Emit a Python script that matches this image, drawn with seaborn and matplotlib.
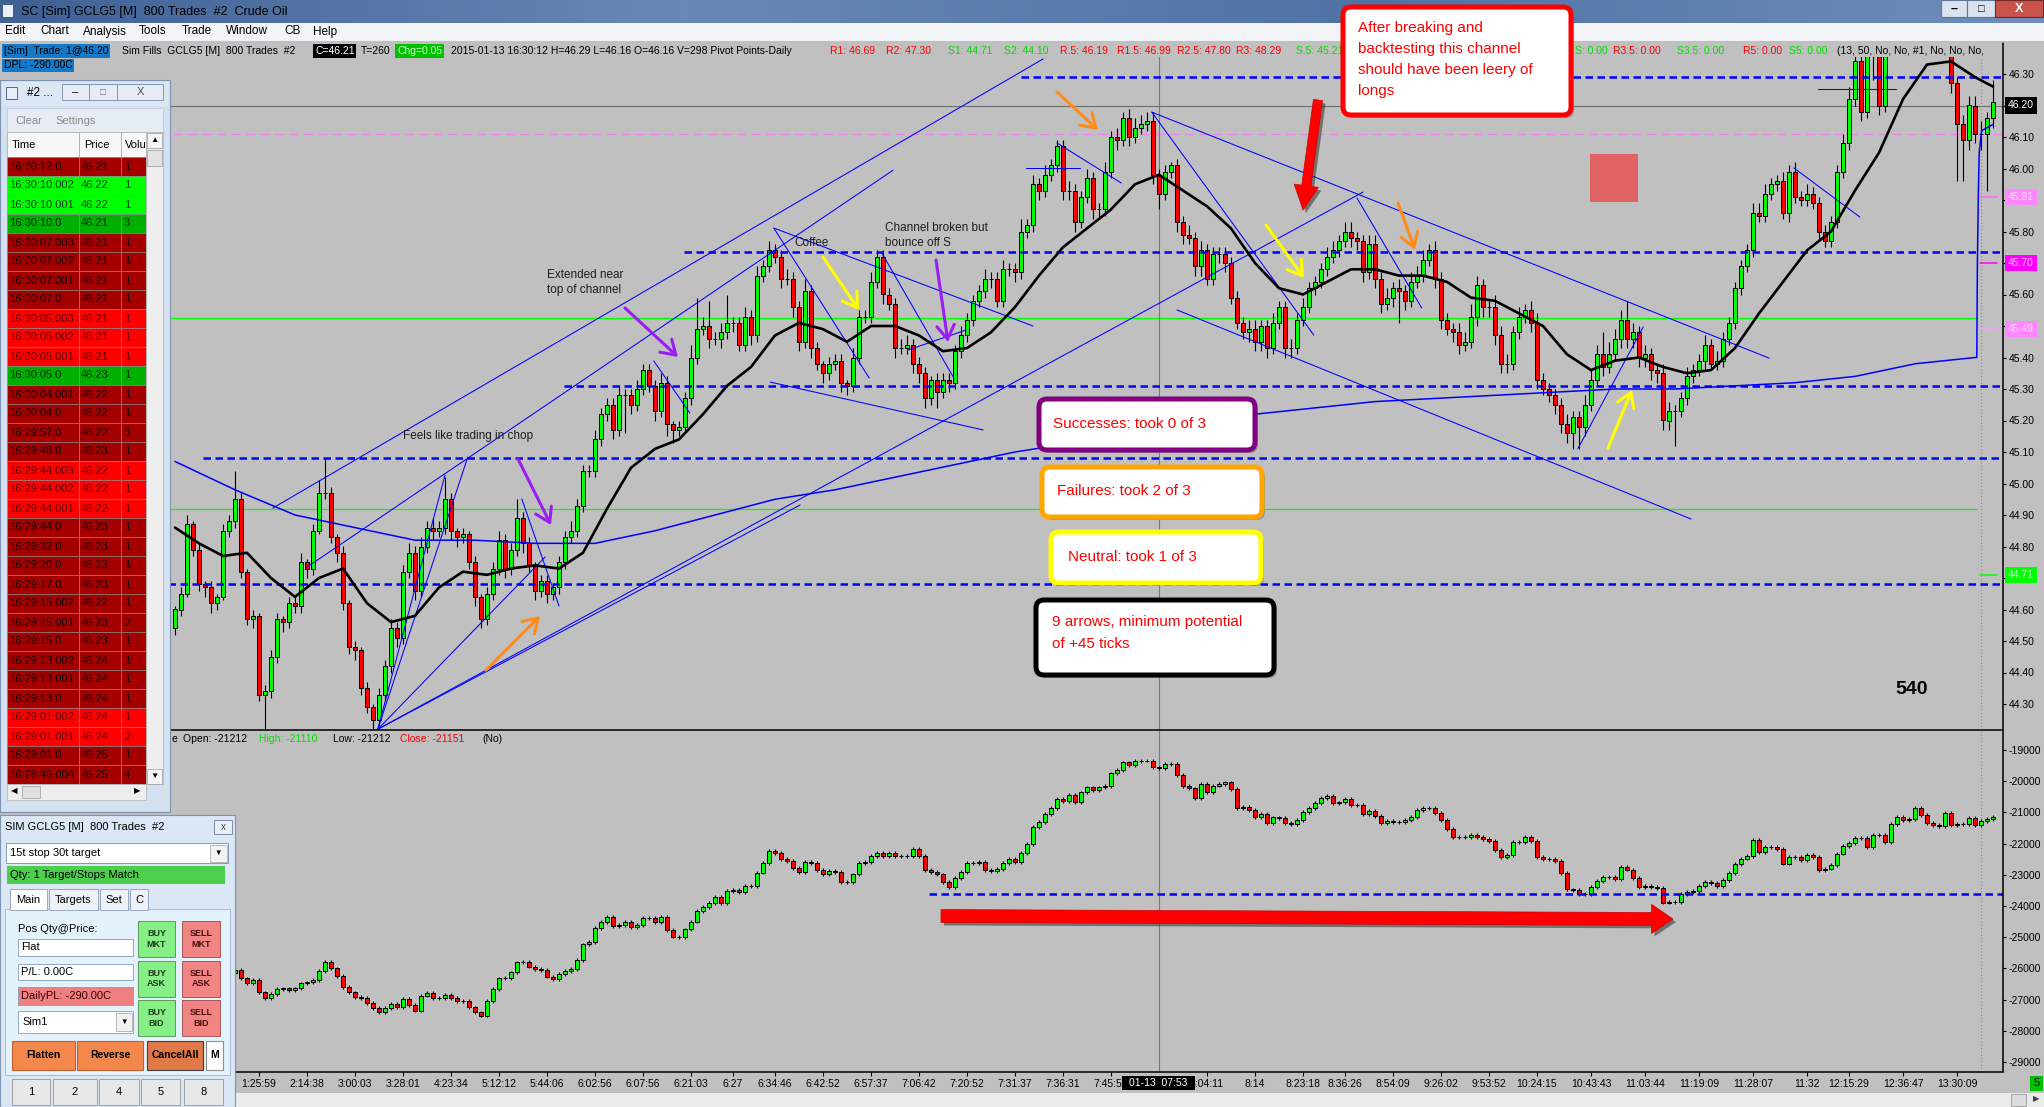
import numpy as np
import matplotlib
matplotlib.use("Agg")
import matplotlib.pyplot as plt
import seaborn as sns
from matplotlib.patches import Rectangle, FancyBboxPatch, FancyArrowPatch
from matplotlib.colors import LinearSegmentedColormap

sns.set_theme(style="ticks")
plt.rcParams["font.family"] = ["Liberation Sans", "DejaVu Sans"]
plt.rcParams["axes.unicode_minus"] = False

# ---------------------------------------------------------------- data
# price bars (closes in cents), bar 0 is the first bar right of the Time&Sales window
CLOSE_CENTS = [
    4460, 4465, 4487, 4479, 4468, 4467, 4462, 4464, 4485, 4488,
    4495, 4472, 4457, 4458, 4433, 4434, 4445, 4457, 4456, 4462,
    4461, 4475, 4473, 4485, 4497, 4497, 4483, 4478, 4462, 4448,
    4447, 4435, 4429, 4425, 4433, 4442, 4454, 4451, 4472, 4478,
    4466, 4480, 4486, 4485, 4486, 4495, 4485, 4483, 4484, 4475,
    4464, 4457, 4465, 4473, 4482, 4473, 4479, 4489, 4481, 4474,
    4466, 4469, 4465, 4467, 4475, 4483, 4485, 4493, 4504, 4504,
    4514, 4522, 4525, 4517, 4528, 4528, 4525, 4530, 4536, 4531,
    4523, 4532, 4519, 4517, 4518, 4527, 4540, 4549, 4550, 4546,
    4546, 4548, 4551, 4551, 4544, 4553, 4547, 4566, 4569, 4574,
    4572, 4565, 4565, 4556, 4545, 4561, 4543, 4538, 4535, 4538,
    4539, 4532, 4531, 4540, 4553, 4553, 4564, 4572, 4560, 4557,
    4543, 4543, 4544, 4538, 4535, 4527, 4533, 4529, 4533, 4532,
    4542, 4547, 4552, 4558, 4561, 4565, 4565, 4558, 4568, 4568,
    4567, 4580, 4582, 4595, 4593, 4598, 4601, 4607, 4593, 4593,
    4583, 4591, 4597, 4587, 4587, 4599, 4610, 4609, 4616, 4610,
    4613, 4614, 4615, 4598, 4592, 4599, 4601, 4583, 4579, 4578,
    4569, 4574, 4565, 4573, 4573, 4570, 4559, 4551, 4548, 4549,
    4545, 4550, 4543, 4551, 4556, 4543, 4543, 4552, 4556, 4562,
    4564, 4568, 4572, 4574, 4577, 4580, 4578, 4577, 4567, 4576,
    4565, 4557, 4559, 4562, 4561, 4558, 4564, 4566, 4571, 4574,
    4565, 4552, 4549, 4548, 4544, 4545, 4553, 4563, 4556, 4556,
    4547, 4538, 4538, 4548, 4553, 4555, 4551, 4533, 4530, 4528,
    4525, 4519, 4516, 4521, 4518, 4525, 4533, 4541, 4537, 4541,
    4546, 4552, 4546, 4548, 4540, 4541, 4536, 4535, 4520, 4523,
    4523, 4527, 4534, 4536, 4539, 4544, 4538, 4539, 4546, 4551,
    4562, 4569, 4574, 4586, 4585, 4592, 4595, 4596, 4586, 4599,
    4591, 4590, 4592, 4589, 4580, 4577, 4583, 4599, 4608, 4622,
    4634, 4618, 4640, 4642, 4620, 4640, 4644, 4650, 4647, 4652,
    4655, 4650, 4653, 4648, 4645, 4642, 4627, 4614, 4609, 4620,
    4611, 4611, 4616, 4621]
FIRST_OPEN = 44.54
WICK_UP_CENTS = [
    1, 2, 3, 1, 2, 1, 2, 1, 2, 2, 9, 2, 1, 2, 1, 2, 2, 2, 1, 2,
    2, 3, 1, 2, 4, 11, 2, 1, 2, 1, 2, 1, 2, 1, 2, 2, 3, 2, 2, 3,
    2, 3, 2, 3, 2, 7, 2, 1, 2, 1, 2, 1, 2, 2, 3, 2, 2, 6, 2, 2,
    1, 2, 2, 1, 2, 2, 3, 2, 2, 2, 3, 2, 2, 2, 3, 2, 2, 3, 2, 2,
    2, 3, 2, 1, 2, 2, 4, 10, 3, 8, 2, 3, 9, 2, 2, 3, 2, 3, 2, 3,
    2, 2, 3, 2, 2, 4, 2, 2, 1, 2, 2, 2, 1, 3, 2, 2, 3, 2, 2, 2,
    2, 3, 3, 2, 2, 2, 1, 2, 2, 2, 2, 3, 2, 2, 2, 3, 2, 2, 3, 2,
    2, 4, 2, 3, 2, 3, 2, 2, 2, 3, 2, 2, 3, 2, 2, 3, 2, 3, 2, 3,
    3, 3, 3, 3, 2, 2, 1, 2, 2, 3, 2, 3, 2, 2, 2, 2, 2, 2, 2, 3,
    3, 2, 2, 3, 2, 2, 3, 2, 3, 2, 2, 2, 3, 3, 2, 3, 3, 2, 2, 3,
    3, 2, 3, 2, 3, 2, 3, 3, 3, 2, 3, 2, 2, 2, 3, 3, 4, 3, 2, 2,
    4, 3, 3, 2, 3, 2, 3, 3, 2, 2, 2, 2, 3, 2, 2, 3, 3, 3, 7, 4,
    3, 3, 6, 3, 2, 3, 2, 2, 3, 3, 2, 2, 3, 2, 2, 3, 2, 3, 2, 2,
    2, 2, 2, 3, 3, 3, 2, 2, 3, 2, 3, 2, 3, 2, 2, 2, 2, 2, 3, 4,
    3, 3, 3, 3, 3, 3, 3, 3, 3, 3, 3, 3, 3, 3, 3, 3, 4, 2, 3, 3,
    3, 4, 2, 7]
WICK_DN_CENTS = [
    2, 2, 1, 2, 2, 3, 3, 2, 1, 2, 2, 2, 2, 3, 2, 11, 2, 2, 3, 2,
    2, 2, 3, 2, 1, 2, 2, 3, 2, 2, 3, 2, 2, 3, 2, 2, 2, 3, 2, 2,
    3, 2, 2, 3, 2, 2, 3, 3, 2, 2, 3, 3, 2, 2, 2, 3, 2, 2, 3, 2,
    3, 2, 3, 2, 2, 2, 2, 2, 2, 2, 2, 2, 2, 3, 2, 12, 3, 2, 2, 2,
    3, 2, 4, 4, 2, 2, 2, 2, 2, 3, 2, 3, 2, 3, 2, 2, 3, 2, 2, 2,
    2, 3, 2, 3, 3, 2, 3, 2, 3, 2, 2, 3, 3, 2, 2, 2, 2, 2, 3, 2,
    3, 2, 2, 3, 3, 3, 2, 5, 2, 3, 2, 2, 2, 2, 2, 2, 3, 2, 2, 2,
    3, 2, 2, 2, 3, 2, 2, 2, 3, 3, 3, 2, 2, 3, 3, 2, 2, 3, 2, 3,
    2, 2, 2, 3, 5, 2, 2, 3, 3, 2, 3, 3, 2, 2, 3, 3, 2, 2, 2, 3,
    3, 3, 3, 2, 2, 3, 3, 2, 2, 2, 2, 2, 2, 2, 2, 2, 3, 3, 3, 2,
    3, 3, 2, 3, 10, 3, 2, 2, 2, 2, 3, 3, 2, 3, 3, 2, 2, 3, 3, 3,
    3, 3, 3, 2, 2, 2, 3, 3, 2, 2, 3, 3, 3, 5, 7, 3, 2, 2, 3, 2,
    2, 3, 3, 3, 3, 3, 3, 3, 3, 3, 11, 2, 2, 2, 2, 3, 2, 2, 2, 2,
    2, 2, 2, 2, 2, 2, 2, 2, 2, 3, 2, 2, 2, 2, 3, 2, 2, 2, 2, 2,
    2, 3, 2, 12, 3, 2, 3, 3, 3, 3, 3, 3, 3, 3, 3, 3, 3, 18, 13, 3,
    3, 5, 18, 3]

# black moving average, read every 4 bars
MA_STEP = 4
MA_VALUES = [
    44.86, 44.81, 44.77, 44.78, 44.70, 44.64, 44.70, 44.73, 44.62, 44.56,
    44.58, 44.67, 44.72, 44.71, 44.73, 44.74, 44.73, 44.78, 44.92, 45.05,
    45.11, 45.14, 45.22, 45.31, 45.37, 45.47, 45.51, 45.49, 45.45, 45.50,
    45.50, 45.47, 45.42, 45.43, 45.48, 45.56, 45.66, 45.75, 45.81, 45.87,
    45.95, 45.98, 45.93, 45.88, 45.81, 45.70, 45.62, 45.60, 45.64, 45.68,
    45.68, 45.66, 45.66, 45.64, 45.59, 45.58, 45.54, 45.50, 45.41, 45.36,
    45.39, 45.40, 45.37, 45.35, 45.36, 45.43, 45.54, 45.64, 45.74, 45.80,
    45.93, 46.05, 46.22, 46.33, 46.34, 46.29, 46.26]
# slow blue curve, read every 10 bars, plus its jump at the right edge
SLOW_STEP = 10
SLOW_VALUES = [
    45.07, 44.98, 44.90, 44.86, 44.82, 44.82, 44.81, 44.81, 44.85, 44.90,
    44.95, 44.98, 45.02, 45.06, 45.10, 45.13, 45.16, 45.19, 45.22, 45.24,
    45.26, 45.27, 45.28, 45.29, 45.30, 45.30, 45.31, 45.32, 45.34, 45.38,
    45.40]
SLOW_TAIL_BARS = [300.3, 300.4, 300.55, 300.7, 301.1, 303.0]
SLOW_TAIL_VALUES = [45.40, 45.70, 45.91, 46.05, 46.12, 46.14]

# lower study (cumulative delta) closes
DELTA_CLOSE = [
    -26200, -26150, -26250, -26300, -26200, -26100, -26150, -26250, -26200, -26150,
    -26050, -26320, -26480, -26370, -26770, -26960, -26820, -26670, -26640, -26690,
    -26640, -26480, -26450, -26370, -26080, -25800, -26000, -26240, -26590, -26770,
    -26910, -26960, -27120, -27260, -27410, -27280, -27150, -27250, -26980, -27180,
    -27350, -26870, -26800, -26960, -26960, -26850, -26960, -27040, -27040, -27250,
    -27410, -27510, -27040, -26670, -26320, -26300, -26130, -25810, -25780, -25940,
    -26030, -26050, -26260, -26340, -26190, -26080, -26020, -25730, -25230, -25160,
    -24710, -24520, -24360, -24630, -24610, -24500, -24680, -24610, -24390, -24390,
    -24520, -24360, -24770, -24980, -25000, -24750, -24500, -24150, -24040, -23910,
    -23720, -23910, -23510, -23490, -23540, -23350, -23350, -22930, -22630, -22230,
    -22310, -22500, -22550, -22770, -22920, -22580, -22630, -22850, -22990, -22870,
    -22900, -23220, -23220, -22990, -22610, -22600, -22390, -22290, -22390, -22290,
    -22400, -22390, -22390, -22180, -22390, -22850, -22920, -22990, -23240, -23380,
    -23110, -22900, -22630, -22610, -22600, -22850, -22870, -22820, -22630, -22490,
    -22600, -22290, -22010, -21460, -21300, -21050, -20850, -20580, -20630, -20440,
    -20680, -20360, -20200, -20280, -20200, -20150, -19750, -19640, -19400, -19480,
    -19360, -19340, -19340, -19560, -19590, -19460, -19460, -19800, -20150, -20230,
    -20550, -20100, -20340, -20140, -20100, -20040, -20260, -20870, -20820, -20920,
    -21160, -21050, -21350, -21160, -21170, -21330, -21380, -21240, -20990, -20870,
    -20690, -20550, -20470, -20710, -20680, -20580, -20760, -20760, -21060, -20940,
    -21120, -21330, -21280, -21300, -21300, -21240, -21140, -20920, -20870, -20850,
    -21030, -21240, -21540, -21780, -21780, -21800, -21720, -21780, -21850, -21910,
    -22210, -22440, -22370, -21960, -21960, -21780, -21920, -22420, -22500, -22500,
    -22560, -22950, -23470, -23490, -23620, -23620, -23380, -23190, -23080, -23080,
    -23150, -22760, -22830, -23110, -23380, -23360, -23380, -23430, -23890, -23880,
    -23860, -23620, -23560, -23510, -23350, -23220, -23270, -23360, -23170, -22940,
    -22660, -22480, -22390, -21890, -22280, -22120, -22100, -22180, -22640, -22440,
    -22420, -22530, -22370, -22440, -22850, -22800, -22690, -22320, -22080, -21990,
    -21830, -21830, -22120, -21710, -21730, -21960, -21370, -21140, -21250, -21220,
    -20870, -21090, -21350, -21410, -21430, -21010, -21410, -21370, -21370, -21190,
    -21410, -21280, -21220, -21151]
DELTA_FIRST_OPEN = -26250
DELTA_WICK = 60

PIVOT_LEVELS = [46.29, 45.735, 45.31, 45.08, 44.68]
PIVOT_FROM_BAR = [141.0, 84.8, 64.8, 4.7, -29.2]
GREEN_LEVELS = [45.525, 44.92]
MAGENTA_LEVEL = 46.11
LAST_PRICE = 46.20
DELTA_LEVEL = -23615
DELTA_LEVEL_FROM_BAR = 125.7
STUB_LEVELS = [45.91, 45.70, 45.49, 44.71]
STUB_COLORS = ["#FF66FF", "#FF00FF", "#FF99FF", "#00FF00"]
AXIS_TAG_VALUES = [46.20, 45.91, 45.70, 45.49, 44.71]
AXIS_TAG_FACE = ["#000000", "#FF88FF", "#FF00FF", "#FF88FF", "#00FF00"]
AXIS_TAG_TEXT = ["#FFFFFF", "#FFD6FF", "#FFC0FF", "#FFD6FF", "#CCFFCC"]

PRICE_TICKS = [44.30, 44.40, 44.50, 44.60, 44.70, 44.80, 44.90, 45.00, 45.10, 45.20,
               45.30, 45.40, 45.50, 45.60, 45.70, 45.80, 45.90, 46.00, 46.10, 46.20, 46.30]
DELTA_TICKS = [-29000, -28000, -27000, -26000, -25000, -24000, -23000, -22000,
               -21000, -20000, -19000]
TIME_TICK_BARS = [14, 22, 30, 38, 46, 54, 62, 70, 78, 86, 93, 100, 108, 116, 124, 132,
                  140, 148, 156, 172, 180, 188, 195, 203, 211, 219, 227, 236, 245, 254,
                  263, 272, 279, 288, 297]
TIME_TICK_LABELS = ["1:25:59", "2:14:38", "3:00:03", "3:28:01", "4:23:34", "5:12:12",
                    "5:44:06", "6:02:56", "6:07:56", "6:21:03", "6:27", "6:34:46",
                    "6:42:52", "6:57:37", "7:06:42", "7:20:52", "7:31:37", "7:36:31",
                    "7:45:55", "8:04:11", "8:14", "8:23:18", "8:36:26", "8:54:09",
                    "9:26:02", "9:53:52", "10:24:15", "10:43:43", "11:03:44", "11:19:09",
                    "11:28:07", "11:32", "12:15:29", "12:36:47", "13:30:09"]
CURSOR_BAR = 164
CURSOR_LABEL = "01-13  07:53"
MARKER_BAR = 301

# hand-drawn trend lines: (bar0, price0, bar1, price1)
TRENDLINES = [
    (16.3, 44.922, 144.7, 46.348), (21.8, 44.732, 119.7, 45.995),
    (33.8, 44.22, 48.8, 45.084), (33.8, 44.22, 45.0, 45.027),
    (33.8, 44.22, 61.7, 44.767), (33.8, 44.22, 198.0, 45.925),
    (33.8, 44.22, 104.2, 44.932), (57.8, 44.951, 64.0, 44.611),
    (79.8, 45.389, 85.8, 45.224), (99.8, 45.811, 143.0, 45.500),
    (99.8, 45.811, 115.7, 45.335), (117.8, 45.732, 129.8, 45.335),
    (122.2, 45.424, 131.8, 45.487), (99.2, 45.322, 134.7, 45.170),
    (141.8, 46.002, 150.8, 46.002), (147.0, 46.081, 157.7, 45.954),
    (162.8, 46.179, 265.7, 45.398), (162.8, 46.179, 189.8, 45.471),
    (167.0, 45.551, 252.7, 44.887), (197.0, 45.906, 207.8, 45.557),
    (233.8, 45.110, 244.7, 45.497), (269.8, 46.002, 280.8, 45.846),
    (273.8, 46.252, 286.8, 46.252)]

# Time & Sales window rows
TS_TIMES = ["16:30:12.0", "16:30:10.002", "16:30:10.001", "16:30:10.0", "16:30:07.003",
            "16:30:07.002", "16:30:07.001", "16:30:07.0", "16:30:05.003", "16:30:05.002",
            "16:30:05.001", "16:30:05.0", "16:30:04.001", "16:30:04.0", "16:29:57.0",
            "16:29:48.0", "16:29:44.003", "16:29:44.002", "16:29:44.001", "16:29:44.0",
            "16:29:32.0", "16:29:20.0", "16:29:17.0", "16:29:15.002", "16:29:15.001",
            "16:29:15.0", "16:29:13.002", "16:29:13.001", "16:29:13.0", "16:29:01.002",
            "16:29:01.001", "16:29:01.0", "16:28:46.004"]
TS_PRICES = ["46.21", "46.22", "46.22", "46.21", "46.21", "46.21", "46.21", "46.21",
             "46.21", "46.21", "46.21", "46.23", "46.22", "46.22", "46.22", "46.23",
             "46.22", "46.22", "46.22", "46.23", "46.23", "46.23", "46.23", "46.22",
             "46.23", "46.23", "46.24", "46.24", "46.24", "46.24", "46.24", "46.25", "46.25"]
TS_VOLS = [1, 1, 1, 3, 1, 1, 1, 1, 1, 1, 1, 1, 1, 1, 3, 1, 1, 1, 1, 1, 1, 1, 1, 1, 2, 1,
           1, 1, 1, 1, 2, 1, 4]
TS_KIND = ["D", "L", "L", "G", "D", "D", "D", "D", "R", "R", "R", "G", "D", "D", "D", "D",
           "R", "R", "R", "D", "D", "D", "D", "D", "D", "D", "D", "D", "D", "R", "R", "D", "D"]

# ---------------------------------------------------------------- figure
W, H = 2044, 1107
X0_PIX, BAR_PIX, AXIS_RIGHT = 175, 6, 2003
fig = plt.figure(figsize=(W / 100, H / 100), dpi=100)
fig.patch.set_facecolor("#C0C0C0")


def frac(x0, y0, x1, y1):
    return [x0 / W, 1 - y1 / H, (x1 - x0) / W, (y1 - y0) / H]


XL = (-X0_PIX / BAR_PIX, (AXIS_RIGHT - X0_PIX) / BAR_PIX)
ax = fig.add_axes(frac(0, 57, AXIS_RIGHT, 730))
axd = fig.add_axes(frac(0, 731, AXIS_RIGHT, 1072))
for a in (ax, axd):
    a.set_facecolor("#C0C0C0")
    for s in a.spines.values():
        s.set_visible(False)


def candles(a, x, o, c, hi, lo, width):
    up = c >= o
    a.vlines(x, lo, hi, color="black", lw=0.8, zorder=4)
    a.bar(x[up], (c - o)[up], bottom=o[up], width=width, color="#00FF00",
          edgecolor="black", linewidth=0.7, zorder=5)
    a.bar(x[~up], (c - o)[~up], bottom=o[~up], width=width, color="#FF0000",
          edgecolor="black", linewidth=0.7, zorder=5)


close = np.array(CLOSE_CENTS) / 100.0
n = len(close)
bars = np.arange(n)
opn = np.r_[FIRST_OPEN, close[:-1]]
hi = np.maximum(opn, close) + np.array(WICK_UP_CENTS) / 100.0
lo = np.minimum(opn, close) - np.array(WICK_DN_CENTS) / 100.0

# reference levels
for p in GREEN_LEVELS:
    ax.plot([XL[0], 300.3], [p, p], color="#00FF00", lw=0.9, zorder=2)
ax.plot(XL, [MAGENTA_LEVEL] * 2, color="#EE82EE", lw=0.8, dashes=(8, 5), zorder=2)
ax.plot(XL, [LAST_PRICE] * 2, color="#6E6E6E", lw=0.8, zorder=2)
ax.axvline(CURSOR_BAR, color="#7A7A7A", lw=0.8, zorder=3)
ax.axvline(MARKER_BAR, color="#8A8A8A", lw=0.8, ls=(0, (1, 2)), zorder=3)

candles(ax, bars, opn, close, hi, lo, 0.72)

for p, b0 in zip(PIVOT_LEVELS, PIVOT_FROM_BAR):
    ax.plot([b0, XL[1]], [p, p], color="#0000FF", lw=1.8, dashes=(3.0, 1.8), zorder=6)
for p, col in zip(STUB_LEVELS, STUB_COLORS):
    ax.plot([300.8, 303.6], [p, p], color=col, lw=1.1, zorder=6)

for b0, p0, b1, p1 in TRENDLINES:
    ax.plot([b0, b1], [p0, p1], color="#0000FF", lw=0.75, zorder=6)

slow_x = np.r_[np.arange(len(SLOW_VALUES)) * SLOW_STEP, SLOW_TAIL_BARS]
slow_y = np.r_[SLOW_VALUES, SLOW_TAIL_VALUES]
sns.lineplot(x=slow_x, y=slow_y, ax=ax, color="#0000FF", linewidth=1.1,
             estimator=None, sort=False, zorder=6)
ma_x = np.minimum(np.arange(len(MA_VALUES)) * MA_STEP, n - 1)
sns.lineplot(x=ma_x, y=MA_VALUES, ax=ax, color="black", linewidth=1.9,
             estimator=None, sort=False, zorder=7)

ax.set_xlim(*XL)
ax.set_ylim(46.30 - 656 / 315.0, 46.30 + 17 / 315.0)
ax.set_xlabel("")
ax.set_ylabel("")
ax.set_xticks([])
ax.yaxis.tick_right()
ax.set_yticks(PRICE_TICKS)
# labels hidden under the coloured price tags are left blank, as they are covered on screen
ax.set_yticklabels(["" if min(abs(v - t) for t in AXIS_TAG_VALUES) < 0.035 else f"{v:.2f}"
                    for v in PRICE_TICKS])
ax.tick_params(axis="y", direction="out", length=2.5, width=0.8, pad=1.5,
               labelsize=7.5, colors="black")
for v, fc, tc in zip(AXIS_TAG_VALUES, AXIS_TAG_FACE, AXIS_TAG_TEXT):
    ax.text(1.0025, v, f"{v:.2f}", transform=ax.get_yaxis_transform(), ha="left",
            va="center", fontsize=7.5, color=tc, zorder=30, clip_on=False,
            bbox=dict(boxstyle="square,pad=0.3", fc=fc, ec="none"))

# lower panel
dc = np.array(DELTA_CLOSE, dtype=float)
do = np.r_[DELTA_FIRST_OPEN, dc[:-1]]
dhi = np.maximum(do, dc) + DELTA_WICK
dlo = np.minimum(do, dc) - DELTA_WICK
axd.axvline(CURSOR_BAR, color="#7A7A7A", lw=0.8, zorder=3)
axd.axvline(MARKER_BAR, color="#8A8A8A", lw=0.8, ls=(0, (1, 2)), zorder=3)
candles(axd, bars, do, dc, dhi, dlo, 0.78)
axd.plot([DELTA_LEVEL_FROM_BAR, XL[1]], [DELTA_LEVEL] * 2, color="#0000FF", lw=1.8,
         dashes=(3.0, 1.8), zorder=6)
axd.set_xlim(*XL)
axd.set_ylim(-19000 - 322 * 32.05, -19000 + 19 * 32.05)
axd.yaxis.tick_right()
axd.set_yticks(DELTA_TICKS)
axd.set_yticklabels([str(v) for v in DELTA_TICKS])
axd.set_xticks(TIME_TICK_BARS)
axd.set_xticklabels(TIME_TICK_LABELS)
axd.tick_params(axis="y", direction="out", length=2.5, width=0.8, pad=1.5,
                labelsize=7.5, colors="black")
axd.tick_params(axis="x", direction="out", length=3, width=0.8, pad=2,
                labelsize=7.5, colors="black", bottom=True, top=False)

# ---------------------------------------------------------------- overlay (window chrome, notes)
ov = fig.add_axes([0, 0, 1, 1])
ov.set_xlim(0, W)
ov.set_ylim(H, 0)
ov.axis("off")


def R(x0, y0, x1, y1, fc, ec="none", lw=0.0, z=20):
    ov.add_patch(Rectangle((x0, y0), x1 - x0, y1 - y0, facecolor=fc, edgecolor=ec,
                           linewidth=lw, zorder=z))


def T(x, y, s, size=7.5, color="black", ha="left", va="center", weight="normal",
      z=21, bg=None, family=None):
    kw = {}
    if bg is not None:
        kw["bbox"] = dict(boxstyle="square,pad=0.15", fc=bg, ec="none")
    if family is not None:
        kw["family"] = family
    ov.text(x, y, s, fontsize=size, color=color, ha=ha, va=va, fontweight=weight,
            zorder=z, **kw)


# chart frame lines
ov.plot([0, AXIS_RIGHT], [730, 730], color="black", lw=1.1, zorder=5)
ov.plot([0, AXIS_RIGHT], [1072, 1072], color="black", lw=1.1, zorder=5)
ov.plot([AXIS_RIGHT, AXIS_RIGHT], [43, 1072], color="black", lw=1.1, zorder=5)

# title bar + menu
grad = np.linspace(0, 1, 256).reshape(1, -1)
cmap = LinearSegmentedColormap.from_list("tb", ["#3F6194", "#6888B6", "#4F73A4", "#6F8EBB"])
ov.imshow(grad, extent=(0, W, 23, 0), cmap=cmap, aspect="auto", zorder=19)
R(2, 4, 13, 17, "#E8F0F8", ec="#30507A", lw=0.6, z=20)
T(21, 11.5, "SC [Sim] GCLG5 [M]  800 Trades  #2  Crude Oil", size=9)
R(1941, 0, 1967, 17, "#D9E2EE", ec="#5E7698", lw=0.8)
R(1967, 0, 1995, 17, "#D9E2EE", ec="#5E7698", lw=0.8)
R(1995, 0, 2043, 17, "#C9524A", ec="#6E2A26", lw=0.8)
T(1954, 9, "\u2013", size=9, ha="center", weight="bold")
T(1981, 8.5, "\u25A1", size=8, ha="center")
T(2019, 8.5, "X", size=9, ha="center", color="white", weight="bold")
R(0, 23, W, 41, "#F2F4F7")
ov.plot([0, W], [41, 41], color="#B9C2CC", lw=0.8, zorder=21)
for x, s in zip([5, 40, 83, 139, 182, 226, 284, 313],
                ["Edit", "Chart", "Analysis", "Tools", "Trade", "Window", "CB", "Help"]):
    T(x, 31.5, s, size=8.5)

# chart header line
HEADER = [(4, "[Sim]  Trade: 1@46.20", "black", "#1479C9"),
          (122, "Sim Fills  GCLG5 [M]  800 Trades  #2", "black", None),
          (315, "C=46.21", "white", "black"), (361, "T=260", "black", None),
          (397, "Chg=0.05", "#C8FFC8", "#00C000"),
          (451, "2015-01-13 16:30:12 H=46.29 L=46.16 O=46.16 V=298 Pivot Points-Daily",
           "black", None),
          (830, "R1: 46.69", "#FF0000", None), (886, "R2: 47.30", "#FF0000", None),
          (948, "S1: 44.71", "#00DD00", None), (1004, "S2: 44.10", "#00DD00", None),
          (1060, "R.5: 46.19", "#FF0000", None), (1117, "R1.5: 46.99", "#FF0000", None),
          (1177, "R2.5: 47.80", "#FF0000", None), (1236, "R3: 48.29", "#FF0000", None),
          (1296, "S.5: 45.21", "#00DD00", None),
          (1575, "S: 0.00", "#00DD00", None), (1613, "R3.5: 0.00", "#FF0000", None),
          (1677, "S3.5: 0.00", "#00DD00", None), (1743, "R5: 0.00", "#FF0000", None),
          (1789, "S5: 0.00", "#00DD00", None),
          (1837, "(13, 50, No, No, #1, No, No, No,", "black", None)]
for x, s, c, bg in HEADER:
    T(x, 51, s, color=c, bg=bg, z=8)
T(4, 65.5, "DPL: -290.00C", bg="#1479C9", z=8)

# lower study header
for x, s, c in [(172, "e", "black"), (183, "Open: -21212", "black"),
                (259, "High: -21110", "#00E000"), (333, "Low: -21212", "black"),
                (400, "Close: -21151", "#FF0000"), (482, "(No)", "black")]:
    T(x, 739, s, color=c, z=8)

# notes on chart
for x, y, s in [(547, 275, "Extended near"), (547, 290, "top of channel"),
                (403, 436, "Feels like trading in chop"), (794, 243, "Coffee"),
                (885, 228, "Channel broken but"), (885, 243, "bounce off S")]:
    T(x, y, s, size=8.5, color="#1E1E1E", z=9)
T(1912, 689, "540", size=14, weight="bold", ha="center", z=9)
R(1590, 154, 1638, 202, "#E06262", z=8)


def arrow(p0, p1, color, lw=2.2, z=9):
    ov.add_patch(FancyArrowPatch(p0, p1, arrowstyle="->,head_length=0.55,head_width=0.35",
                                 mutation_scale=18, color=color, lw=lw, shrinkA=0,
                                 shrinkB=0, zorder=z, capstyle="round"))


for p0, p1 in [((625, 308), (678, 357)), ((518, 459), (551, 525)), ((936, 260), (948, 342))]:
    arrow(p0, p1, "#9A1EF0")
for p0, p1 in [((486, 670), (540, 616)), ((1057, 92), (1098, 130)), ((1398, 203), (1415, 250))]:
    arrow(p0, p1, "#FF8C1A")
for p0, p1 in [((823, 257), (859, 310)), ((1266, 225), (1304, 278)), ((1608, 448), (1632, 390))]:
    arrow(p0, p1, "#FFFF00")


def fat_arrow(p0, p1, style, scale):
    sh = 3
    ov.add_patch(FancyArrowPatch((p0[0] + sh, p0[1] + sh), (p1[0] + sh, p1[1] + sh),
                                 arrowstyle=style, mutation_scale=scale, fc="#303030",
                                 ec="none", alpha=0.55, shrinkA=0, shrinkB=0, zorder=44))
    ov.add_patch(FancyArrowPatch(p0, p1, arrowstyle=style, mutation_scale=scale,
                                 fc="#FF0000", ec="#D00000", lw=0.5, shrinkA=0, shrinkB=0,
                                 zorder=45))


fat_arrow((1318, 100), (1303, 210), "simple,head_length=0.8,head_width=0.8,tail_width=0.3", 22)
fat_arrow((941, 916), (1673, 919), "simple,head_length=0.7,head_width=0.95,tail_width=0.42", 22)

# annotation boxes (drawn above the window chrome, as in the screenshot)
BOXES = [((1343, 7, 1571, 115), "#FF0000",
          ["After breaking and", "backtesting this channel", "should have been leery of", "longs"],
          1358, [28, 49, 70, 91]),
         ((1039, 399, 1255, 450), "#800080", ["Successes: took 0 of 3"], 1053, [424]),
         ((1042, 467, 1262, 517), "#FFA500", ["Failures: took 2 of 3"], 1057, [491]),
         ((1051, 532, 1261, 583), "#FFFF00", ["Neutral: took 1 of 3"], 1068, [557]),
         ((1036, 600, 1274, 675), "#000000", ["9 arrows, minimum potential", "of +45 ticks"],
          1052, [622, 644])]
for (x0, y0, x1, y1), ec, lines, tx, tys in BOXES:
    ov.add_patch(FancyBboxPatch((x0 + 3, y0 + 3), x1 - x0, y1 - y0,
                                boxstyle="round,pad=0,rounding_size=8", fc="#6E6E6E",
                                ec="none", alpha=0.5, zorder=40))
    ov.add_patch(FancyBboxPatch((x0, y0), x1 - x0, y1 - y0,
                                boxstyle="round,pad=0,rounding_size=8", fc="white",
                                ec=ec, lw=3.6, zorder=41))
    for s, ty in zip(lines, tys):
        T(tx, ty, s, size=11, color="#FF0000", z=42)

# bottom strip
R(1122, 1076, 1195, 1090, "black", z=22)
T(1158.5, 1083, CURSOR_LABEL, color="white", ha="center", z=23)
R(235, 1093, W, 1107, "#EBEBEB", z=20)
R(2011, 1094, 2026, 1106, "#DCDCDC", ec="#9A9A9A", lw=0.6, z=21)
T(2036, 1100, "\u25B6", size=6, ha="center", color="#404040", z=22)
R(2030, 1076, 2043, 1091, "#00C000", z=21)
T(2036.5, 1083.5, "5", size=8, ha="center", z=22)

# Time & Sales window
R(0, 80, 170, 812, "#D4E1F1", ec="#7F93AE", lw=0.8, z=30)
R(2, 82, 168, 106, "#DCE7F5", z=31)
R(6, 87, 17, 99, "#E8EEF6", ec="#405878", lw=0.6, z=32)
T(27, 93, "#2 ...", size=8.5, z=32)
for bx0, bx1 in [(62, 89), (89, 117), (117, 163)]:
    R(bx0, 84, bx1, 100, "#E5ECF5", ec="#8296B2", lw=0.7, z=32)
T(75.5, 92, "\u2013", size=8, ha="center", z=33)
T(103, 92, "\u25A1", size=7, ha="center", color="#707070", z=33)
T(140, 92, "X", size=8, ha="center", color="#505050", z=33)
R(7, 108, 163, 132, "#E6ECF4", ec="#B8C6D8", lw=0.5, z=31)
T(15, 121, "Clear", size=8, color="#8A8A8A", z=32)
T(55, 121, "Settings", size=8, color="#8A8A8A", z=32)
R(7, 132, 146, 157, "#F7F7F7", ec="#A8A8A8", lw=0.5, z=31)
T(12, 145, "Time", size=8, z=32)
T(84, 145, "Price", size=8, z=32)
T(125, 145, "Volu", size=8, z=32)
ov.plot([79, 79], [132, 157], color="#A8A8A8", lw=0.6, zorder=32)
ov.plot([121, 121], [132, 157], color="#A8A8A8", lw=0.6, zorder=32)
KIND_FACE = {"D": "#A40000", "R": "#FF0000", "L": "#00FF00", "G": "#00B000"}
KIND_TEXT = {"D": "#140000", "R": "#5C0000", "L": "#0A3A0A", "G": "#062A06"}
for k, (tm, pr, vo, kd) in enumerate(zip(TS_TIMES, TS_PRICES, TS_VOLS, TS_KIND)):
    y0 = 157 + 19 * k
    for cx0, cx1 in [(7, 79), (79, 121), (121, 146)]:
        R(cx0, y0, cx1, y0 + 19, KIND_FACE[kd], ec="#8C8C8C", lw=0.4, z=31)
    T(9, y0 + 9.5, tm, size=8, color=KIND_TEXT[kd], z=32)
    T(81, y0 + 9.5, pr, size=8, color=KIND_TEXT[kd], z=32)
    T(124, y0 + 9.5, str(vo), size=8, color=KIND_TEXT[kd], z=32)
R(146, 132, 163, 784, "#EEEEEE", ec="#B0B0B0", lw=0.5, z=31)
R(147, 133, 162, 148, "#F4F4F4", ec="#9A9A9A", lw=0.5, z=32)
T(154.5, 141, "\u25B2", size=6, ha="center", z=33)
R(147, 150, 162, 166, "#E2E2E2", ec="#9A9A9A", lw=0.5, z=32)
R(147, 769, 162, 784, "#F4F4F4", ec="#9A9A9A", lw=0.5, z=32)
T(154.5, 776, "\u25BC", size=6, ha="center", z=33)
R(7, 784, 146, 800, "#EEEEEE", ec="#B0B0B0", lw=0.5, z=31)
T(14, 792, "\u25C0", size=6, ha="center", z=33)
R(22, 786, 40, 798, "#E0E0E0", ec="#9A9A9A", lw=0.5, z=32)
T(137, 792, "\u25B6", size=6, ha="center", z=33)

# order entry window
R(0, 815, 235, 1107, "#DCE7F5", ec="#7F93AE", lw=0.8, z=30)
T(5, 827, "SIM GCLG5 [M]  800 Trades  #2", size=8, z=32)
R(214, 820, 232, 834, "#E8EEF6", ec="#7A8BA6", lw=0.7, z=32)
T(223, 827, "x", size=7, ha="center", color="#404040", z=33)
R(6, 843, 228, 863, "white", ec="#7F9DB9", lw=0.7, z=31)
T(10, 853, "15t stop 30t target", size=8, z=32)
R(210, 845, 227, 862, "#F2F2F2", ec="#A0A0A0", lw=0.5, z=32)
T(218.5, 853.5, "\u25BC", size=5.5, ha="center", z=33)
R(7, 866, 225, 884, "#4CCF4C", z=31)
T(10, 875, "Qty: 1 Target/Stops Match", size=8, z=32)
R(5, 909, 230, 1075, "#E4F3FB", ec="#A0B4CC", lw=0.6, z=31)
for (tx0, tx1, s, fc) in [(10, 47, "Main", "white"), (49, 98, "Targets", "#EEF2F8"),
                          (100, 128, "Set", "#EEF2F8"), (130, 148, "C", "#EEF2F8")]:
    R(tx0, 889, tx1, 910, fc, ec="#8C9CB4", lw=0.6, z=32)
    T((tx0 + tx1) / 2, 900, s, size=8, ha="center", z=33)
T(18, 929, "Pos Qty@Price:", size=8, z=32)
R(18, 939, 133, 956, "white", ec="#7F9DB9", lw=0.6, z=32)
T(21, 947.5, "Flat", size=8, z=33)
R(18, 964, 133, 980, "white", ec="#7F9DB9", lw=0.6, z=32)
T(21, 972, "P/L: 0.00C", size=8, z=33)
R(18, 987, 133, 1005, "#F08080", ec="#7F9DB9", lw=0.6, z=32)
T(21, 996, "DailyPL: -290.00C", size=8, color="#3A0000", z=33)
R(18, 1011, 133, 1033, "white", ec="#7F9DB9", lw=0.6, z=32)
T(22, 1022, "Sim1", size=8, z=33)
R(116, 1013, 132, 1031, "#F2F2F2", ec="#A0A0A0", lw=0.5, z=33)
T(124, 1022, "\u25BC", size=5.5, ha="center", z=34)
for k, lab in enumerate(["MKT", "ASK", "BID"]):
    y0 = 921 + 39.5 * k
    R(138, y0, 175, y0 + 36, "#86F086", ec="#5A9A5A", lw=0.7, z=32)
    T(156.5, y0 + 18, "BUY\n" + lab, size=6.5, ha="center", weight="bold",
      color="#1E3A1E", z=33)
    R(182, y0, 220, y0 + 36, "#F28484", ec="#A05A5A", lw=0.7, z=32)
    T(201, y0 + 18, "SELL\n" + lab, size=6.5, ha="center", weight="bold",
      color="#4A1010", z=33)
for (bx0, bx1, s, fc, ec) in [(12, 75, "Flatten", "#F4874B", "#C06030"),
                              (77, 143, "Reverse", "#F4874B", "#C06030"),
                              (147, 203, "CancelAll", "#E07848", "#404040"),
                              (206, 223, "M", "white", "#909090")]:
    R(bx0, 1041, bx1, 1070, fc, ec=ec, lw=0.8, z=32)
    T((bx0 + bx1) / 2, 1055.5, s, size=7.5, ha="center", weight="bold", z=33)
for (bx0, bx1, s) in [(12, 50, "1"), (53, 97, "2"), (99, 139, "4"), (141, 180, "5"),
                      (184, 223, "8")]:
    R(bx0, 1079, bx1, 1105, "#E8E8E8", ec="#A0A0A0", lw=0.7, z=32)
    T((bx0 + bx1) / 2, 1092, s, size=8, ha="center", z=33)

ov.set_xlim(0, W)
ov.set_ylim(H, 0)
fig.savefig("out.png", dpi=100, facecolor=fig.get_facecolor())
